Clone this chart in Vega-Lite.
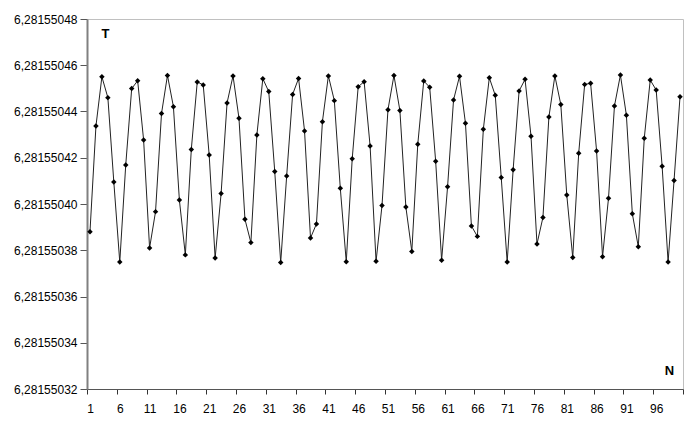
{
  "$schema": "https://vega.github.io/schema/vega-lite/v6.json",
  "width": 596,
  "height": 370,
  "autosize": {"type": "none"},
  "padding": {"left": 87, "top": 19, "right": 12, "bottom": 47},
  "background": "white",
  "config": {
    "view": {"stroke": "#c0c0c0", "strokeWidth": 1},
    "font": "Liberation Sans",
    "axis": {"labelFont": "Liberation Sans", "titleFont": "Liberation Sans", "labelColor": "black", "titleColor": "black"}
  },
  "data": {
    "values": [
      {"N": 1, "T": 6.2815503880}, {"N": 2, "T": 6.2815504337}, {"N": 3, "T": 6.2815504550}, {"N": 4, "T": 6.2815504460}, {"N": 5, "T": 6.2815504095},
      {"N": 6, "T": 6.2815503749}, {"N": 7, "T": 6.2815504169}, {"N": 8, "T": 6.2815504499}, {"N": 9, "T": 6.2815504533}, {"N": 10, "T": 6.2815504277},
      {"N": 11, "T": 6.2815503810}, {"N": 12, "T": 6.2815503967}, {"N": 13, "T": 6.2815504391}, {"N": 14, "T": 6.2815504556}, {"N": 15, "T": 6.2815504421},
      {"N": 16, "T": 6.2815504017}, {"N": 17, "T": 6.2815503780}, {"N": 18, "T": 6.2815504236}, {"N": 19, "T": 6.2815504528}, {"N": 20, "T": 6.2815504515},
      {"N": 21, "T": 6.2815504212}, {"N": 22, "T": 6.2815503766}, {"N": 23, "T": 6.2815504045}, {"N": 24, "T": 6.2815504437}, {"N": 25, "T": 6.2815504554},
      {"N": 26, "T": 6.2815504371}, {"N": 27, "T": 6.2815503934}, {"N": 28, "T": 6.2815503833}, {"N": 29, "T": 6.2815504298}, {"N": 30, "T": 6.2815504542},
      {"N": 31, "T": 6.2815504486}, {"N": 32, "T": 6.2815504141}, {"N": 33, "T": 6.2815503747}, {"N": 34, "T": 6.2815504121}, {"N": 35, "T": 6.2815504474},
      {"N": 36, "T": 6.2815504543}, {"N": 37, "T": 6.2815504316}, {"N": 38, "T": 6.2815503853}, {"N": 39, "T": 6.2815503914}, {"N": 40, "T": 6.2815504356},
      {"N": 41, "T": 6.2815504554}, {"N": 42, "T": 6.2815504447}, {"N": 43, "T": 6.2815504068}, {"N": 44, "T": 6.2815503750}, {"N": 45, "T": 6.2815504196},
      {"N": 46, "T": 6.2815504507}, {"N": 47, "T": 6.2815504529}, {"N": 48, "T": 6.2815504251}, {"N": 49, "T": 6.2815503752}, {"N": 50, "T": 6.2815503994},
      {"N": 51, "T": 6.2815504408}, {"N": 52, "T": 6.2815504556}, {"N": 53, "T": 6.2815504404}, {"N": 54, "T": 6.2815503987}, {"N": 55, "T": 6.2815503795},
      {"N": 56, "T": 6.2815504258}, {"N": 57, "T": 6.2815504532}, {"N": 58, "T": 6.2815504505}, {"N": 59, "T": 6.2815504185}, {"N": 60, "T": 6.2815503757},
      {"N": 61, "T": 6.2815504075}, {"N": 62, "T": 6.2815504450}, {"N": 63, "T": 6.2815504552}, {"N": 64, "T": 6.2815504349}, {"N": 65, "T": 6.2815503905},
      {"N": 66, "T": 6.2815503860}, {"N": 67, "T": 6.2815504323}, {"N": 68, "T": 6.2815504546}, {"N": 69, "T": 6.2815504470}, {"N": 70, "T": 6.2815504115},
      {"N": 71, "T": 6.2815503749}, {"N": 72, "T": 6.2815504148}, {"N": 73, "T": 6.2815504489}, {"N": 74, "T": 6.2815504539}, {"N": 75, "T": 6.2815504293},
      {"N": 76, "T": 6.2815503827}, {"N": 77, "T": 6.2815503942}, {"N": 78, "T": 6.2815504376}, {"N": 79, "T": 6.2815504554}, {"N": 80, "T": 6.2815504430},
      {"N": 81, "T": 6.2815504039}, {"N": 82, "T": 6.2815503769}, {"N": 83, "T": 6.2815504219}, {"N": 84, "T": 6.2815504517}, {"N": 85, "T": 6.2815504522},
      {"N": 86, "T": 6.2815504229}, {"N": 87, "T": 6.2815503772}, {"N": 88, "T": 6.2815504025}, {"N": 89, "T": 6.2815504424}, {"N": 90, "T": 6.2815504558},
      {"N": 91, "T": 6.2815504384}, {"N": 92, "T": 6.2815503958}, {"N": 93, "T": 6.2815503815}, {"N": 94, "T": 6.2815504284}, {"N": 95, "T": 6.2815504536},
      {"N": 96, "T": 6.2815504493}, {"N": 97, "T": 6.2815504163}, {"N": 98, "T": 6.2815503749}, {"N": 99, "T": 6.2815504102}, {"N": 100, "T": 6.2815504464}
    ]
  },
  "encoding": {
    "x": {
      "field": "N", "type": "quantitative",
      "scale": {"domain": [0.5, 100.5], "nice": false, "zero": false},
      "axis": {
        "values": [0.5, 5.5, 10.5, 15.5, 20.5, 25.5, 30.5, 35.5, 40.5, 45.5, 50.5, 55.5, 60.5, 65.5, 70.5, 75.5, 80.5, 85.5, 90.5, 95.5, 100.5],
        "labelExpr": "datum.value < 100 ? format(datum.value + 0.5, 'd') : ''",
        "labelOffset": 3,
        "labelFlush": false,
        "labelOverlap": false,
        "labelFontSize": 12,
        "labelPadding": 9,
        "tickSize": 5,
        "tickColor": "#333333",
        "domainColor": "#555555",
        "grid": false,
        "title": "N",
        "titleFontSize": 13,
        "titleFontWeight": "bold",
        "titleX": 582,
        "titleY": -19,
        "titleAlign": "center",
        "titleBaseline": "middle",
        "titleAngle": 0
      }
    },
    "y": {
      "field": "T", "type": "quantitative",
      "scale": {"domain": [6.28155032, 6.28155048], "nice": false, "zero": false},
      "axis": {
        "values": [6.28155032, 6.28155034, 6.28155036, 6.28155038, 6.28155040, 6.28155042, 6.28155044, 6.28155046, 6.28155048],
        "labelExpr": "replace(format(datum.value, '.8f'), '.', ',')",
        "labelFontSize": 12,
        "labelPadding": 3,
        "labelFlush": false,
        "labelOverlap": false,
        "tickSize": 7,
        "tickColor": "#555555",
        "domainColor": "#808080",
        "domainWidth": 2,
        "grid": false,
        "title": "T",
        "titleFontSize": 13,
        "titleFontWeight": "bold",
        "titleX": 18,
        "titleY": 14,
        "titleAlign": "center",
        "titleBaseline": "middle",
        "titleAngle": 0
      }
    }
  },
  "layer": [
    {"mark": {"type": "line", "color": "#222222", "strokeWidth": 1}},
    {"mark": {"type": "point", "shape": "diamond", "filled": true, "color": "black", "size": 30, "opacity": 1}}
  ]
}
